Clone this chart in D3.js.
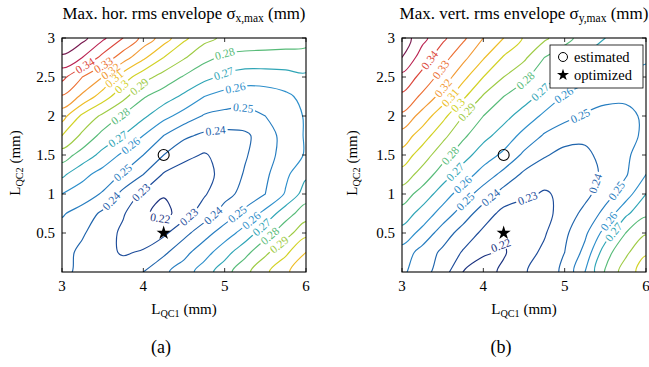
<!DOCTYPE html>
<html>
<head>
<meta charset="utf-8">
<script src="https://cdn.jsdelivr.net/npm/d3@7"></script>
<style>
  body { margin: 0; background: #fff; }
</style>
</head>
<body>
<svg id="fig" width="649" height="367"></svg>
<script>
// grid of the scan (mm)
const xGrid = [3, 3.25, 3.5, 3.75, 4, 4.25, 4.5, 4.75, 5, 5.25, 5.5, 5.75, 6];
const yGrid = [0, 0.25, 0.5, 0.75, 1, 1.25, 1.5, 1.75, 2, 2.25, 2.5, 2.75, 3];

// contour levels (mm)
const levels = [0.22, 0.23, 0.24, 0.25, 0.26, 0.27, 0.28, 0.29, 0.3, 0.31, 0.32, 0.33, 0.34, 0.35, 0.36];

// max. horizontal rms envelope, one row per yGrid value (bottom to top)
const sigmaXRows = [
  [0.242, 0.238, 0.235, 0.235, 0.240, 0.248, 0.255, 0.265, 0.276, 0.287, 0.298, 0.308, 0.318],
  [0.243, 0.238, 0.233, 0.229, 0.231, 0.238, 0.247, 0.256, 0.266, 0.277, 0.288, 0.298, 0.310],
  [0.246, 0.241, 0.235, 0.228, 0.225, 0.228, 0.237, 0.246, 0.255, 0.264, 0.276, 0.286, 0.297],
  [0.251, 0.246, 0.238, 0.231, 0.222, 0.216, 0.226, 0.235, 0.244, 0.253, 0.263, 0.276, 0.285],
  [0.260, 0.255, 0.249, 0.237, 0.228, 0.221, 0.222, 0.229, 0.237, 0.243, 0.250, 0.261, 0.275],
  [0.272, 0.263, 0.256, 0.249, 0.240, 0.229, 0.225, 0.227, 0.233, 0.241, 0.248, 0.258, 0.268],
  [0.285, 0.276, 0.267, 0.258, 0.250, 0.240, 0.233, 0.229, 0.234, 0.239, 0.246, 0.254, 0.261],
  [0.300, 0.288, 0.277, 0.270, 0.260, 0.250, 0.242, 0.238, 0.237, 0.238, 0.245, 0.254, 0.261],
  [0.314, 0.298, 0.288, 0.279, 0.272, 0.263, 0.256, 0.249, 0.247, 0.247, 0.250, 0.255, 0.261],
  [0.329, 0.318, 0.305, 0.293, 0.281, 0.275, 0.268, 0.260, 0.256, 0.254, 0.255, 0.258, 0.263],
  [0.343, 0.330, 0.320, 0.305, 0.294, 0.286, 0.279, 0.273, 0.268, 0.265, 0.265, 0.266, 0.268],
  [0.358, 0.350, 0.337, 0.325, 0.312, 0.300, 0.291, 0.283, 0.278, 0.277, 0.277, 0.277, 0.277],
  [0.370, 0.363, 0.352, 0.340, 0.327, 0.315, 0.302, 0.293, 0.288, 0.286, 0.285, 0.284, 0.283]
];

// max. vertical rms envelope, same layout
const sigmaYRows = [
  [0.252, 0.244, 0.235, 0.220, 0.216, 0.222, 0.229, 0.235, 0.242, 0.260, 0.281, 0.295, 0.305],
  [0.256, 0.246, 0.238, 0.229, 0.221, 0.219, 0.226, 0.232, 0.240, 0.253, 0.276, 0.288, 0.299],
  [0.266, 0.257, 0.245, 0.236, 0.228, 0.221, 0.223, 0.229, 0.238, 0.248, 0.264, 0.280, 0.289],
  [0.276, 0.266, 0.256, 0.245, 0.235, 0.227, 0.225, 0.227, 0.234, 0.243, 0.253, 0.268, 0.278],
  [0.285, 0.276, 0.265, 0.255, 0.245, 0.236, 0.232, 0.229, 0.232, 0.237, 0.246, 0.255, 0.270],
  [0.296, 0.286, 0.275, 0.265, 0.256, 0.247, 0.238, 0.234, 0.233, 0.236, 0.242, 0.249, 0.260],
  [0.306, 0.295, 0.284, 0.274, 0.265, 0.258, 0.248, 0.241, 0.237, 0.238, 0.243, 0.248, 0.256],
  [0.316, 0.305, 0.293, 0.282, 0.273, 0.266, 0.257, 0.249, 0.244, 0.242, 0.242, 0.245, 0.253],
  [0.328, 0.316, 0.303, 0.290, 0.280, 0.273, 0.266, 0.258, 0.253, 0.249, 0.246, 0.247, 0.252],
  [0.338, 0.328, 0.316, 0.302, 0.289, 0.280, 0.274, 0.267, 0.259, 0.255, 0.253, 0.252, 0.253],
  [0.347, 0.337, 0.326, 0.313, 0.300, 0.290, 0.282, 0.274, 0.268, 0.263, 0.259, 0.257, 0.256],
  [0.360, 0.345, 0.334, 0.323, 0.311, 0.299, 0.292, 0.280, 0.275, 0.269, 0.266, 0.264, 0.262],
  [0.366, 0.353, 0.342, 0.332, 0.320, 0.310, 0.299, 0.292, 0.283, 0.276, 0.270, 0.268, 0.267]
];

const estimated = [4.25, 1.5];
const optimized = [4.25, 0.5];

const xTicks = [3, 4, 5, 6];
const yTicks = [0.5, 1, 1.5, 2, 2.5, 3];

const levelColors = ['#1c3380', '#1d4c9a', '#1f64ac', '#267dc0', '#2d8fcb', '#2fa5b6', '#57bb78',
  '#9ecb45', '#d2d226', '#eebd27', '#f29a35', '#ec6f33', '#db463b', '#ba2351', '#781a50'];

const serif = 'Liberation Serif, DejaVu Serif, serif';
const svg = d3.select('#fig').attr('font-family', serif);
const defs = svg.append('defs');
const plotTop = 38, plotBottom = 272;
const labelEvery = 135;

const panels = [
  { id: 'a', rows: sigmaXRows, left: 62, right: 306, title: ['Max. hor. rms envelope σ', 'x,max', ' (mm)'],
    titleWidth: 243, caption: '(a)', captionX: 161, yLabelX: 20, legend: false },
  { id: 'b', rows: sigmaYRows, left: 402, right: 646, title: ['Max. vert. rms envelope σ', 'y,max', ' (mm)'],
    titleWidth: 249, caption: '(b)', captionX: 501, yLabelX: 357, legend: true }
];

const color = d3.scaleOrdinal().domain(levels).range(levelColors);
const fmt = v => String(+v.toFixed(2));
const starPath = d3.symbol(d3.symbolStar, 62)();

const pointAt = (run, s) => {
  let acc = 0;
  for (let i = 1; i < run.length; i++) {
    const a = run[i - 1], b = run[i];
    const l = Math.hypot(b[0] - a[0], b[1] - a[1]);
    if (acc + l >= s && l > 0) {
      const t = (s - acc) / l;
      return [a[0] + t * (b[0] - a[0]), a[1] + t * (b[1] - a[1])];
    }
    acc += l;
  }
  return run[run.length - 1];
};

const runLength = run => d3.sum(d3.pairs(run), ([a, b]) => Math.hypot(b[0] - a[0], b[1] - a[1]));

const subText = (sel, main, sub, rest, size) => {
  sel.append('tspan').text(main);
  sel.append('tspan').attr('font-size', size * 0.68).attr('dy', 3).text(sub);
  sel.append('tspan').attr('dy', -3).text(rest);
};

const drawPanel = p => {
  const x = d3.scaleLinear().domain([3, 6]).range([p.left, p.right]);
  const y = d3.scaleLinear().domain([0, 3]).range([plotBottom, plotTop]);
  const nx = xGrid.length, ny = yGrid.length;
  const sx = xGrid[1] - xGrid[0], sy = yGrid[1] - yGrid[0];
  const toPx = c => [x(xGrid[0] + (c[0] - 0.5) * sx), y(yGrid[0] + (c[1] - 0.5) * sy)];

  defs.append('clipPath').attr('id', 'clip-' + p.id)
    .append('rect')
    .attr('x', p.left).attr('y', plotTop)
    .attr('width', p.right - p.left).attr('height', plotBottom - plotTop);

  const contours = d3.contours().size([nx, ny]).thresholds(levels)(p.rows.flat());

  const g = svg.append('g');
  const lines = g.append('g').attr('clip-path', 'url(#clip-' + p.id + ')');
  const labels = g.append('g').attr('clip-path', 'url(#clip-' + p.id + ')');
  const ring = d3.line().curve(d3.curveCatmullRomClosed.alpha(0.5));

  const box = { x0: p.left + 4, x1: p.right - 4, y0: plotTop + 4, y1: plotBottom - 4 };
  const avoid = [[x(estimated[0]), y(estimated[1]), 11], [x(optimized[0]), y(optimized[1]), 12]];
  const blocked = pt => {
    if (p.legend && pt[0] > 543 && pt[1] < 95) return true;
    return avoid.some(a => Math.hypot(pt[0] - a[0], pt[1] - a[1]) < a[2]);
  };

  contours.forEach((c, li) => {
    const level = c.value;
    const maskId = 'mask-' + p.id + '-' + li;
    const mask = defs.append('mask').attr('id', maskId)
      .attr('maskUnits', 'userSpaceOnUse')
      .attr('x', 0).attr('y', 0).attr('width', 649).attr('height', 367);
    mask.append('rect').attr('width', 649).attr('height', 367).attr('fill', '#fff');

    const rings = [];
    c.coordinates.forEach(poly => poly.forEach(r => rings.push(r.slice(0, -1).map(toPx))));

    lines.append('path')
      .attr('d', rings.map(r => ring(r)).join(''))
      .attr('fill', 'none')
      .attr('stroke', color(level))
      .attr('stroke-width', 1.15)
      .attr('mask', 'url(#' + maskId + ')');

    rings.forEach(r => {
      // pieces of the ring that lie inside the frame
      const runs = [];
      let cur = [];
      r.concat([r[0]]).forEach(pt => {
        if (pt[0] > box.x0 && pt[0] < box.x1 && pt[1] > box.y0 && pt[1] < box.y1) cur.push(pt);
        else { if (cur.length > 1) runs.push(cur); cur = []; }
      });
      if (cur.length > 1) runs.push(cur);

      runs.forEach(run => {
        const len = runLength(run);
        if (len < 24) return;
        const n = Math.max(1, Math.round(len / labelEvery));
        for (let k = 0; k < n; k++) {
          const s = len * (k + 0.5) / n;
          let pos = null;
          for (const d of [0, 16, -16, 32, -32]) {
            const ss = s + d;
            if (ss < 11 || ss > len - 11) continue;
            if (!blocked(pointAt(run, ss))) { pos = ss; break; }
          }
          if (pos === null) continue;
          const c0 = pointAt(run, pos);
          const a = pointAt(run, Math.max(0, pos - 9));
          const b = pointAt(run, Math.min(len, pos + 9));
          let ang = Math.atan2(b[1] - a[1], b[0] - a[0]) * 180 / Math.PI;
          if (ang > 90) ang -= 180;
          if (ang < -90) ang += 180;
          const tr = 'translate(' + c0[0] + ',' + c0[1] + ') rotate(' + ang + ')';
          const t = labels.append('text')
            .attr('transform', tr)
            .attr('text-anchor', 'middle')
            .attr('dy', '0.34em')
            .attr('font-size', 11.5)
            .attr('fill', color(level))
            .text(fmt(level));
          const w = t.node().getComputedTextLength() + 4;
          mask.append('rect')
            .attr('x', -w / 2).attr('y', -5).attr('width', w).attr('height', 10)
            .attr('transform', tr)
            .attr('fill', '#000');
        }
      });
    });
  });

  // ticks on all four sides, pointing inwards
  const axes = svg.append('g').attr('stroke', '#000').attr('stroke-width', 0.8);
  xTicks.forEach(t => {
    axes.append('line').attr('x1', x(t)).attr('x2', x(t)).attr('y1', plotBottom).attr('y2', plotBottom - 4);
    axes.append('line').attr('x1', x(t)).attr('x2', x(t)).attr('y1', plotTop).attr('y2', plotTop + 4);
  });
  yTicks.forEach(t => {
    axes.append('line').attr('x1', p.left).attr('x2', p.left + 4).attr('y1', y(t)).attr('y2', y(t));
    axes.append('line').attr('x1', p.right).attr('x2', p.right - 4).attr('y1', y(t)).attr('y2', y(t));
  });
  svg.append('rect')
    .attr('x', p.left).attr('y', plotTop)
    .attr('width', p.right - p.left).attr('height', plotBottom - plotTop)
    .attr('fill', 'none').attr('stroke', '#000').attr('stroke-width', 1.1);

  svg.append('g').selectAll('text').data(xTicks).join('text')
    .attr('x', d => x(d)).attr('y', 291)
    .attr('text-anchor', 'middle').attr('font-size', 15)
    .text(d => d);
  svg.append('g').selectAll('text').data(yTicks).join('text')
    .attr('x', p.left - 7).attr('y', d => y(d) + 5)
    .attr('text-anchor', 'end').attr('font-size', 15)
    .text(d => d);

  // markers
  svg.append('circle')
    .attr('cx', x(estimated[0])).attr('cy', y(estimated[1])).attr('r', 5.5)
    .attr('fill', 'none').attr('stroke', '#000').attr('stroke-width', 1.1);
  svg.append('path')
    .attr('d', starPath)
    .attr('transform', 'translate(' + x(optimized[0]) + ',' + y(optimized[1]) + ')')
    .attr('fill', '#000');

  // title, scaled to the width it has in the figure
  const title = svg.append('text')
    .attr('x', (p.left + p.right) / 2).attr('y', 19)
    .attr('text-anchor', 'middle').attr('font-size', 15);
  subText(title, p.title[0], p.title[1], p.title[2], 15);
  const tw = title.node().getComputedTextLength();
  const fs = Math.max(13, Math.min(17, 15 * p.titleWidth / tw));
  title.attr('font-size', fs);
  title.select('tspan:nth-child(2)').attr('font-size', fs * 0.68);

  // axis labels
  const xl = svg.append('text')
    .attr('x', (p.left + p.right) / 2).attr('y', 314)
    .attr('text-anchor', 'middle').attr('font-size', 15);
  subText(xl, 'L', 'QC1', ' (mm)', 15);

  const yl = svg.append('text')
    .attr('transform', 'translate(' + p.yLabelX + ',' + 163 + ') rotate(-90)')
    .attr('text-anchor', 'middle').attr('font-size', 15);
  subText(yl, 'L', 'QC2', ' (mm)', 15);

  svg.append('text')
    .attr('x', p.captionX).attr('y', 353)
    .attr('text-anchor', 'middle').attr('font-size', 18)
    .text(p.caption);

  if (p.legend) {
    const lg = svg.append('g');
    lg.append('rect')
      .attr('x', 550).attr('y', 45).attr('width', 93).attr('height', 43)
      .attr('fill', '#fff').attr('stroke', '#000').attr('stroke-width', 0.8);
    lg.append('circle').attr('cx', 563).attr('cy', 57).attr('r', 4.5)
      .attr('fill', 'none').attr('stroke', '#000').attr('stroke-width', 1);
    lg.append('path').attr('d', d3.symbol(d3.symbolStar, 45)())
      .attr('transform', 'translate(563,75)').attr('fill', '#000');
    lg.append('text').attr('x', 574).attr('y', 62).attr('font-size', 14.5).text('estimated');
    lg.append('text').attr('x', 574).attr('y', 80).attr('font-size', 14.5).text('optimized');
  }
};

panels.forEach(drawPanel);
</script>
</body>
</html>
